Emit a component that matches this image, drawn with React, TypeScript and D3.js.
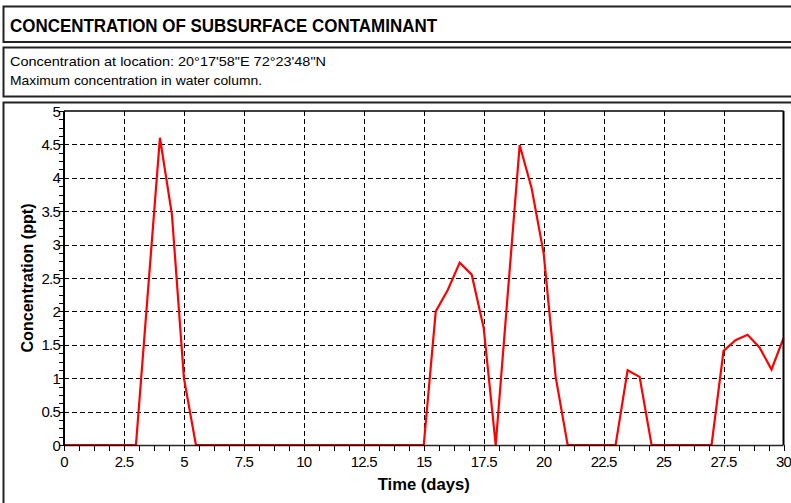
import React from "react";
import * as d3 from "d3";

const titleText = "CONCENTRATION OF SUBSURFACE CONTAMINANT";
const subtitleLines = [
  "Concentration at location: 20°17'58\"E 72°23'48\"N",
  "Maximum concentration in water column.",
];
const xLabel = "Time (days)";
const yLabel = "Concentration (ppt)";

const timeDays = [
  0, 0.5, 1, 1.5, 2, 2.5, 3, 3.5, 4, 4.5, 5, 5.5, 6, 6.5, 7, 7.5, 8, 8.5, 9, 9.5,
  10, 10.5, 11, 11.5, 12, 12.5, 13, 13.5, 14, 14.5, 15, 15.5, 16, 16.5, 17, 17.5,
  18, 18.5, 19, 19.5, 20, 20.5, 21, 21.5, 22, 22.5, 23, 23.5, 24, 24.5, 25, 25.5,
  26, 26.5, 27, 27.5, 28, 28.5, 29, 29.5, 30,
];
const concentration = [
  0, 0, 0, 0, 0, 0, 0, 2.3, 4.6, 3.45, 1.0, 0, 0, 0, 0, 0, 0, 0, 0, 0,
  0, 0, 0, 0, 0, 0, 0, 0, 0, 0, 0, 2.0, 2.32, 2.73, 2.55, 1.75,
  0, 2.25, 4.49, 3.84, 2.87, 1.02, 0, 0, 0, 0, 0, 1.12, 1.02, 0, 0, 0,
  0, 0, 0, 1.41, 1.57, 1.65, 1.46, 1.13, 1.6,
];
const xTicks = [0, 2.5, 5, 7.5, 10, 12.5, 15, 17.5, 20, 22.5, 25, 27.5, 30];
const xTickLabels = ["0", "2.5", "5", "7.5", "10", "12.5", "15", "17.5", "20", "22.5", "25", "27.5", "30"];
const yTicks = [0, 0.5, 1, 1.5, 2, 2.5, 3, 3.5, 4, 4.5, 5];
const yTickLabels = ["0", "0.5", "1", "1.5", "2", "2.5", "3", "3.5", "4", "4.5", "5"];

export default function App() {
  const W = 791;
  const H = 503;
  const left = 64;
  const right = 783.5;
  const top = 111;
  const bottom = 445;
  const x = d3.scaleLinear().domain([0, 30]).range([left, right]);
  const y = d3.scaleLinear().domain([0, 5]).range([bottom, top]);
  const line = d3
    .line<number>()
    .x((_, i) => x(timeDays[i]))
    .y((d) => y(d));
  const xMinor = d3.range(0, 30.0001, 0.625);
  const yMinor = d3.range(0, 5.0001, 0.125);
  const font = "'Liberation Sans', Arial, sans-serif";
  return (
    <svg
      width={W}
      height={H}
      style={{ position: "absolute", left: 0, top: 0, background: "#fff" }}
      fontFamily={font}
    >
      <rect x={0} y={0} width={W} height={H} fill="#fff" />
      {/* boxes */}
      <rect x={3.5} y={6.5} width={W} height={35.5} fill="#fff" stroke="#222" strokeWidth={2} />
      <rect x={3.5} y={47.5} width={W} height={49} fill="#fff" stroke="#222" strokeWidth={2} />
      <rect x={3.5} y={102.5} width={W} height={H} fill="#fff" stroke="#222" strokeWidth={2} />
      <text x={10} y={32} fontSize={18} fontWeight="bold" textLength={427} lengthAdjust="spacingAndGlyphs">
        {titleText}
      </text>
      <text x={10} y={66} fontSize={13} textLength={316} lengthAdjust="spacingAndGlyphs">
        {subtitleLines[0]}
      </text>
      <text x={10} y={85} fontSize={13} textLength={252} lengthAdjust="spacingAndGlyphs">
        {subtitleLines[1]}
      </text>
      {/* grid */}
      <g stroke="#000" strokeWidth={1} strokeDasharray="5,3">
        {xTicks.slice(1, -1).map((t) => (
          <line key={"gx" + t} x1={Math.round(x(t)) + 0.5} x2={Math.round(x(t)) + 0.5} y1={top} y2={bottom} />
        ))}
        {yTicks.slice(1, -1).map((t) => (
          <line key={"gy" + t} x1={left} x2={right} y1={Math.round(y(t)) + 0.5} y2={Math.round(y(t)) + 0.5} />
        ))}
      </g>
      {/* data */}
      <path d={line(concentration) || ""} fill="none" stroke="#ff0000" strokeWidth={2.2} strokeLinejoin="miter" />
      {/* frame */}
      <line x1={left} x2={right} y1={top} y2={top} stroke="#000" strokeWidth={1.5} />
      <line x1={right} x2={right} y1={top} y2={bottom} stroke="#000" strokeWidth={2} />
      <line x1={left} x2={left} y1={top} y2={bottom + 1} stroke="#000" strokeWidth={2} />
      <line x1={left} x2={right} y1={bottom + 0.5} y2={bottom + 0.5} stroke="#000" strokeWidth={1.3} opacity={0.85} />
      {/* ticks */}
      <g stroke="#000" strokeWidth={1}>
        {xMinor.map((t) => (
          <line key={"tx" + t} x1={Math.round(x(t)) + 0.5} x2={Math.round(x(t)) + 0.5} y1={bottom} y2={bottom + 6} />
        ))}
        {yMinor.map((t) => (
          <line key={"ty" + t} x1={left - 5} x2={left} y1={Math.round(y(t)) + 0.5} y2={Math.round(y(t)) + 0.5} />
        ))}
      </g>
      <g fontSize={15} fill="#000" letterSpacing={-0.8}>
        {xTicks.map((t, i) => (
          <text key={"lx" + t} x={x(t)} y={467} textAnchor="middle">
            {xTickLabels[i]}
          </text>
        ))}
        {yTicks.map((t, i) => (
          <text key={"ly" + t} x={60} y={y(t) + 5.5} textAnchor="end">
            {yTickLabels[i]}
          </text>
        ))}
      </g>
      <text x={x(15)} y={490} fontSize={17} fontWeight="bold" textAnchor="middle" textLength={92} lengthAdjust="spacingAndGlyphs">
        {xLabel}
      </text>
      <text
        transform={`translate(33, ${(top + bottom) / 2}) rotate(-90)`}
        fontSize={17}
        fontWeight="bold"
        textAnchor="middle"
        textLength={149}
        lengthAdjust="spacingAndGlyphs"
      >
        {yLabel}
      </text>
    </svg>
  );
}
